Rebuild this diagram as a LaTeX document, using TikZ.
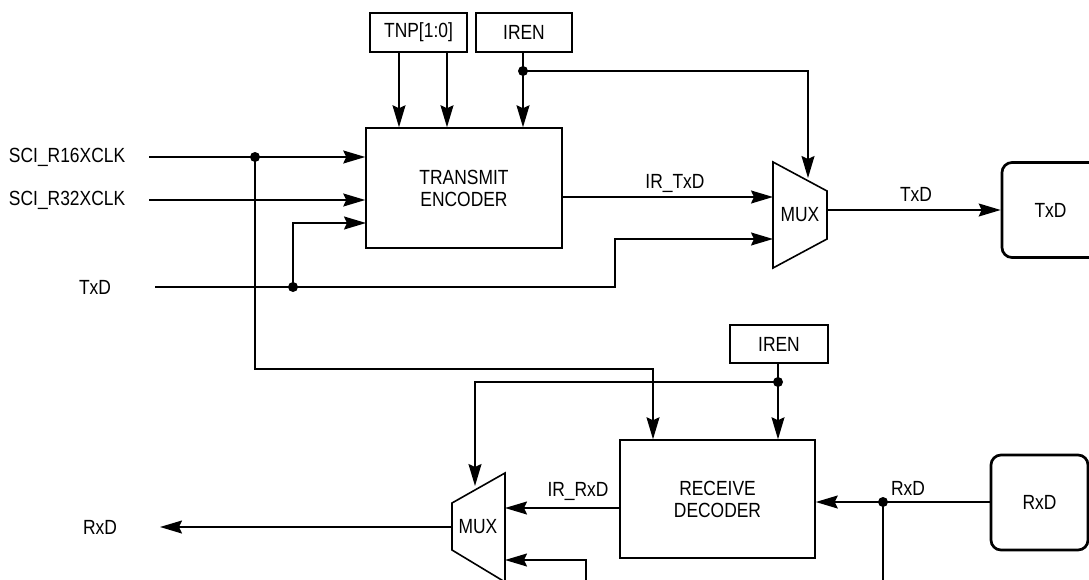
\documentclass[tikz,border=0pt]{standalone}
\usepackage{fontspec}
\setmainfont{Liberation Sans}[FakeStretch=0.85]
\usetikzlibrary{arrows.meta,calc}
\begin{document}
\begin{tikzpicture}[x=1pt,y=-1pt,
  font=\fontsize{20.5}{22}\selectfont, line width=1.6pt,
  arr/.style={-{Stealth[length=22pt,width=13pt,inset=3pt]}},
  box/.style={draw, line width=1.5pt, inner sep=0pt, align=center},
  rbox/.style={draw, line width=2.7pt, rounded corners=10pt, inner sep=0pt, minimum width=97pt, minimum height=95pt},
  dot/.style={circle, fill, inner sep=0pt, minimum size=10pt},
  lbl/.style={inner sep=0pt}]
\useasboundingbox (0,0) rectangle (1089,579);

% boxes
\node[box, minimum width=97pt, minimum height=39pt] (tnp) at (418.5,32.5) {TNP[1:0]};
\node[box, minimum width=96pt, minimum height=39pt] (iren1) at (524,32.5) {IREN};
\node[box, minimum width=196pt, minimum height=120pt] (enc) at (464,188) {TRANSMIT\\ENCODER};
\node[box, minimum width=98pt, minimum height=38pt] (iren2) at (779,344) {IREN};
\node[box, minimum width=195pt, minimum height=118pt] (dec) at (717.5,499) {RECEIVE\\DECODER};
\node[rbox] (txdbox) at (1050.5,210) {TxD};
\node[rbox] (rxdbox) at (1039.5,502.5) {RxD};

% muxes
\draw (773,162) -- (827,191) -- (827,239) -- (773,268) -- cycle;
\node[lbl] (mux1) at (800,215) {MUX};
\draw (452,503) -- (505,473) -- (505,582) -- (452,550) -- cycle;
\node[lbl] (mux2) at (478,527) {MUX};
\coordinate (m1a) at (773,197);
\coordinate (m1b) at (773,239);
\coordinate (m1c) at (808,178);
\coordinate (m1o) at (827,210);
\coordinate (m2a) at (505,508);
\coordinate (m2b) at (505,560);
\coordinate (m2c) at (475,486);
\coordinate (m2o) at (452,527);

% left labels
\node[lbl, anchor=east] (l16) at (126,157) {SCI\_R16XCLK};
\node[lbl, anchor=east] (l32) at (126,200) {SCI\_R32XCLK};
\node[lbl] (ltx) at (95,287) {TxD};
\node[lbl] (lrx) at (100,527) {RxD};

% signal labels
\node[lbl] (lirtx) at (675,183) {IR\_TxD};
\node[lbl] (ltxo) at (916,194) {TxD};
\node[lbl] (lirrx) at (578,491) {IR\_RxD};
\node[lbl] (lrxi) at (908,488) {RxD};

% dots
\node[dot] (d16) at (255,157) {};
\node[dot] (dtx) at (293,287) {};
\node[dot] (di1) at (523,71) {};
\node[dot] (di2) at (778,382) {};
\node[dot] (drx) at (883,502) {};

% helper coordinates
\coordinate (s16) at (149,157);
\coordinate (s32) at (149,200);
\coordinate (stx) at (155,287);
\coordinate (tb1) at (615,287);
\coordinate (tb2) at (615,239);
\coordinate (e3) at (366,223);
\coordinate (ck) at (255,369);
\coordinate (dk) at (653,0);
\coordinate (t1) at (399,0);
\coordinate (t2) at (447,0);
\coordinate (rb) at (586,595);
\coordinate (ro) at (160,527);
\coordinate (rv) at (883,595);

% top connectors
\draw[arr] (tnp.south -| t1) -- (enc.north -| t1);
\draw[arr] (tnp.south -| t2) -- (enc.north -| t2);
\draw[arr] (iren1.south -| di1) -- (enc.north -| di1);
\draw[arr] (di1.center) -| (m1c);
\draw[arr] (s16) -- (s16 -| enc.west);
\draw[arr] (s32) -- (s32 -| enc.west);
\draw[arr] (stx) -- (tb1) -- (tb2) -- (m1b);
\draw[arr] (dtx.center) |- (e3);
\draw[arr] (enc.east |- m1a) -- (m1a);
\draw[arr] (m1o) -- (m1o -| txdbox.west);
\draw[arr] (d16.center) -- (ck) -| (dk |- dec.north);

% bottom connectors
\draw[arr] (iren2.south -| di2) -- (dec.north -| di2);
\draw[arr] (di2.center) -| (m2c);
\draw[arr] (dec.west |- m2a) -- (m2a);
\draw[arr] (rb) |- (m2b);
\draw[arr] (m2o) -- (ro);
\draw[arr] (rxdbox.west |- drx) -- (drx -| dec.east);
\draw (drx.center) -- (rv);
\end{tikzpicture}
\end{document}
